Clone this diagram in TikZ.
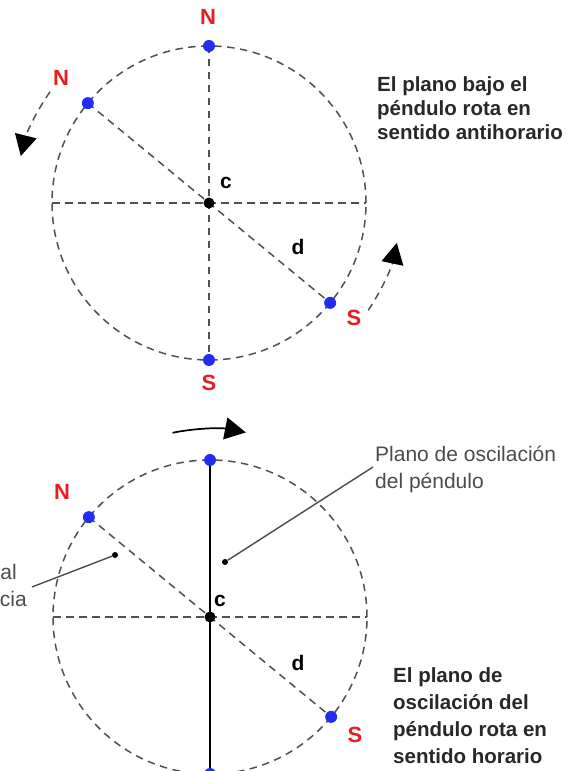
\documentclass[tikz,border=0pt]{standalone}
\usepackage{fontspec}
\setmainfont{Liberation Sans}
\usetikzlibrary{arrows.meta,calc}
\definecolor{dotblue}{RGB}{35,45,240}
\definecolor{lblred}{RGB}{230,30,35}
\definecolor{dashgray}{RGB}{80,80,80}
\definecolor{txtgray}{RGB}{40,40,40}
\definecolor{thingray}{RGB}{75,75,75}
\begin{document}
\begin{tikzpicture}[x=1pt,y=1pt,
  dsh/.style={draw=dashgray, line width=1.5pt, dash pattern=on 7.5pt off 5.5pt},
  bdot/.style={circle, fill=dotblue, inner sep=0pt, minimum size=12pt},
  kdot/.style={circle, fill=black, inner sep=0pt, minimum size=11pt},
  sdot/.style={circle, fill=black, inner sep=0pt, minimum size=6pt},
  pole/.style={text=lblred, font=\fontsize{22}{22}\selectfont\bfseries, inner sep=0pt},
  ltr/.style={font=\fontsize{21}{21}\selectfont\bfseries, inner sep=0pt},
  captx/.style={text=txtgray, font=\fontsize{20.5}{20.5}\selectfont\bfseries, anchor=base west, inner sep=0pt},
  notew/.style={text=thingray, font=\fontsize{21}{21}\selectfont, anchor=base west, inner sep=0pt},
  notee/.style={text=thingray, font=\fontsize{21}{21}\selectfont, anchor=base east, inner sep=0pt},
  tipk/.style={-{Triangle[length=21pt,width=22pt,color=black,fill=black]}},
  lead/.style={draw=thingray, line width=1.4pt}]
\useasboundingbox (0,0) rectangle (586,771);
% ---------- top diagram ----------
\coordinate (c1) at (209,568);
\draw[dsh] (c1) circle[radius=157];
\coordinate (t1) at ($(c1)+(90:157)$);
\coordinate (b1) at ($(c1)+(-90:157)$);
\coordinate (l1) at ($(c1)+(180:157)$);
\coordinate (r1) at ($(c1)+(0:157)$);
\coordinate (nw1) at ($(c1)+(140.5:157)$);
\coordinate (se1) at ($(c1)+(-39.5:157)$);
\draw[dsh] (t1) -- (b1);
\draw[dsh] (l1) -- (r1);
\draw[dsh] (nw1) -- (se1);
\draw[dsh, tipk] ($(c1)+(145:194)$) arc[start angle=145, end angle=166, radius=194];
\draw[dsh, tipk] ($(c1)+(-34:192)$) arc[start angle=-34, end angle=-12, radius=192];
\node[bdot] (dt1) at (t1) {};
\node[bdot] (db1) at (b1) {};
\node[bdot] (dnw1) at (nw1) {};
\node[bdot] (dse1) at (se1) {};
\node[kdot] (dc1) at (c1) {};
\node[pole] (N1) at (208,754) {N};
\node[pole] (N1b) at (61,693) {N};
\node[pole] (S1) at (209,388) {S};
\node[pole] (S1b) at (354,453) {S};
\node[ltr] (lc1) at (226,588) {c};
\node[ltr] (ld1) at (298,524) {d};
\node[captx] (tx1) at (377,679) {El plano bajo el};
\node[captx] (tx2) at (377,655) {péndulo rota en};
\node[captx] (tx3) at (377,631) {sentido antihorario};
% ---------- bottom diagram ----------
\coordinate (c2) at (210,154);
\draw[dsh] (c2) circle[radius=157];
\coordinate (t2) at ($(c2)+(90:157)$);
\coordinate (b2) at ($(c2)+(-90:157)$);
\coordinate (l2) at ($(c2)+(180:157)$);
\coordinate (r2) at ($(c2)+(0:157)$);
\coordinate (nw2) at ($(c2)+(140.5:157)$);
\coordinate (se2) at ($(c2)+(-39.5:157)$);
\draw[dsh] (l2) -- (r2);
\draw[dsh] (nw2) -- (se2);
\draw[black, line width=2pt] (t2) -- (b2);
\draw[black, line width=1.7pt, tipk] ($(c2)+(101.5:188)$) arc[start angle=101.5, end angle=79, radius=188];
\node[bdot] (dt2) at (t2) {};
\node[bdot] (db2) at (b2) {};
\node[bdot] (dnw2) at (nw2) {};
\node[bdot] (dse2) at (se2) {};
\node[kdot] (dc2) at (c2) {};
\node[sdot] (p1) at (225,209) {};
\node[sdot] (p2) at (115,216) {};
\coordinate (e1) at (373,304);
\coordinate (e2) at (32,184);
\draw[lead] (p1) -- (e1);
\draw[lead] (p2) -- (e2);
\node[pole] (N2) at (62,279) {N};
\node[pole] (S2) at (355,36) {S};
\node[ltr] (lc2) at (220,170) {c};
\node[ltr] (ld2) at (298,108) {d};
\node[notew] (pl1) at (375,309) {Plano de oscilación};
\node[notew] (pl2) at (375,282) {del péndulo};
\node[notee] (hl1) at (17,191) {al};
\node[notee] (hl2) at (27,164) {cia};
\node[captx] (bx1) at (393,88) {El plano de};
\node[captx] (bx2) at (393,61) {oscilación del};
\node[captx] (bx3) at (393,34) {péndulo rota en};
\node[captx] (bx4) at (393,8) {sentido horario};
\end{tikzpicture}
\end{document}
